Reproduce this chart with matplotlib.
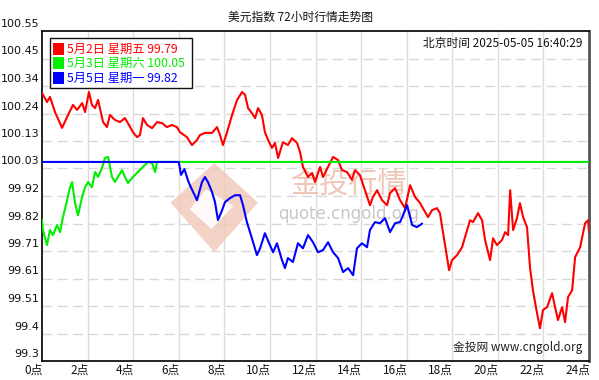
import matplotlib
matplotlib.use("Agg")
import matplotlib.pyplot as plt
import matplotlib.transforms as mtransforms
from matplotlib.patches import Rectangle, Polygon

plt.rcParams['font.family'] = ['Noto Sans CJK SC', 'DejaVu Sans']

# ---------------- data ----------------
title = "美元指数 72小时行情走势图"
timestamp = "北京时间 2025-05-05 16:40:29"
legend_labels = ["5月2日 星期五 99.79", "5月3日 星期六 100.05", "5月5日 星期一 99.82"]
series_colors = ["#ff0000", "#00ee00", "#0000ff"]

x_ticks = list(range(0, 25, 2))
x_ticklabels = [f"{h}点" for h in x_ticks]
y_min, y_max = 99.3, 100.55
y_ticklabels = ["99.3", "99.4", "99.51", "99.61", "99.71", "99.82", "99.92",
                "100.03", "100.13", "100.24", "100.34", "100.45", "100.55"]

red_hours = [0.00, 0.22, 0.35, 0.57, 0.88, 1.10, 1.36, 1.54, 1.76, 1.89, 2.06, 2.19, 2.33, 2.46,
             2.68, 2.85, 2.98, 3.20, 3.42, 3.64, 3.77, 3.99, 4.17, 4.30, 4.43, 4.61, 4.83, 5.05,
             5.27, 5.48, 5.70, 5.92, 6.05, 6.36, 6.58, 6.80, 6.93, 7.15, 7.46, 7.68, 7.81, 7.94,
             8.12, 8.34, 8.56, 8.78, 8.91, 9.04, 9.21, 9.35, 9.48, 9.65, 9.78, 9.92, 10.09, 10.22,
             10.36, 10.57, 10.79, 10.97, 11.19, 11.32, 11.45, 11.67, 11.85, 11.98, 12.20, 12.33,
             12.55, 12.77, 12.99, 13.16, 13.38, 13.60, 13.73, 13.95, 14.17, 14.39, 14.52, 14.70,
             14.92, 15.14, 15.27, 15.49, 15.71, 15.93, 16.15, 16.37, 16.59, 16.81, 16.94, 17.11,
             17.33, 17.46, 17.60, 17.77, 17.86, 17.99, 18.21, 18.43, 18.65, 18.78, 18.91, 19.13,
             19.31, 19.44, 19.66, 19.79, 19.96, 20.18, 20.32, 20.45, 20.54, 20.67, 20.84, 20.97,
             21.11, 21.28, 21.41, 21.54, 21.72, 21.85, 21.98, 22.16, 22.38, 22.51, 22.64, 22.82,
             22.95, 23.08, 23.26, 23.39, 23.61, 23.83, 23.96, 24.00]
red_prices = [100.315, 100.281, 100.300, 100.243, 100.183, 100.224, 100.270, 100.251, 100.277,
              100.243, 100.319, 100.270, 100.258, 100.289, 100.205, 100.186, 100.232, 100.213,
              100.205, 100.220, 100.201, 100.167, 100.148, 100.156, 100.220, 100.194, 100.182,
              100.205, 100.201, 100.186, 100.194, 100.186, 100.167, 100.148, 100.118, 100.137,
              100.156, 100.164, 100.164, 100.186, 100.156, 100.118, 100.167, 100.232, 100.289,
              100.319, 100.308, 100.258, 100.239, 100.220, 100.258, 100.232, 100.167, 100.137,
              100.107, 100.126, 100.069, 100.129, 100.118, 100.144, 100.126, 100.092, 100.035,
              99.997, 100.012, 99.978, 100.035, 99.997, 100.035, 100.073, 100.061, 100.023,
              100.016, 99.986, 100.023, 100.004, 99.947, 99.890, 99.921, 99.947, 99.909, 99.890,
              99.936, 99.955, 99.909, 99.879, 99.966, 99.921, 99.898, 99.864, 99.845, 99.871,
              99.879, 99.860, 99.784, 99.693, 99.644, 99.682, 99.701, 99.731, 99.796, 99.833,
              99.826, 99.860, 99.833, 99.758, 99.682, 99.765, 99.739, 99.758, 99.788, 99.777,
              99.947, 99.796, 99.841, 99.898, 99.845, 99.807, 99.656, 99.568, 99.481, 99.424,
              99.493, 99.504, 99.557, 99.504, 99.455, 99.504, 99.447, 99.542, 99.568, 99.693,
              99.731, 99.822, 99.833, 99.79]

green_hours = [0.00, 0.04, 0.22, 0.35, 0.48, 0.66, 0.79, 0.92, 1.10, 1.23, 1.32, 1.45, 1.58,
               1.76, 1.89, 2.02, 2.19, 2.33, 2.46, 2.63, 2.76, 2.90, 3.07, 3.20, 3.33, 3.51,
               3.64, 3.77, 3.99, 4.21, 4.43, 4.65, 4.83, 4.96, 5.05, 24.00]
green_prices = [99.834, 99.796, 99.739, 99.796, 99.777, 99.815, 99.788, 99.845, 99.909, 99.958,
                99.978, 99.898, 99.852, 99.921, 99.958, 99.978, 99.958, 100.016, 99.997,
                100.031, 100.069, 100.073, 99.997, 99.978, 99.997, 100.023, 99.997, 99.974,
                99.997, 100.016, 100.035, 100.054, 100.050, 100.016, 100.054, 100.054]

blue_hours = [0.00, 6.00, 6.10, 6.25, 6.40, 6.49, 6.80, 7.02, 7.15, 7.28, 7.46, 7.59, 7.72,
              7.90, 8.03, 8.25, 8.47, 8.69, 8.82, 8.99, 9.21, 9.43, 9.57, 9.78, 10.00, 10.14,
              10.31, 10.53, 10.66, 10.79, 11.01, 11.23, 11.45, 11.67, 11.89, 12.11, 12.33,
              12.55, 12.77, 12.99, 13.21, 13.43, 13.65, 13.82, 14.04, 14.26, 14.39, 14.61,
              14.83, 15.05, 15.27, 15.49, 15.71, 16.02, 16.24, 16.45, 16.67]
blue_prices = [100.054, 100.054, 100.005, 100.027, 99.985, 99.966, 99.909, 99.978, 99.997,
               99.978, 99.940, 99.902, 99.834, 99.871, 99.902, 99.917, 99.928, 99.928, 99.890,
               99.826, 99.765, 99.701, 99.727, 99.784, 99.739, 99.712, 99.746, 99.682, 99.652,
               99.690, 99.675, 99.746, 99.727, 99.777, 99.750, 99.712, 99.720, 99.750, 99.712,
               99.690, 99.637, 99.652, 99.625, 99.727, 99.746, 99.731, 99.796, 99.826, 99.822,
               99.841, 99.788, 99.822, 99.826, 99.890, 99.815, 99.807, 99.82]

# ---------------- figure ----------------
fig = plt.figure(figsize=(5.99, 3.80), dpi=100)
ax = fig.add_axes([42 / 599, 19 / 380, 547 / 599, 330 / 380])
ax.set_xlim(0, 24)
ax.set_ylim(y_min, y_max)

# grid
step = (y_max - y_min) / 12
y_ticks = [y_min + i * step for i in range(13)]
for yv in y_ticks[1:-1]:
    ax.axhline(yv, color="#d8d8d8", lw=1.0, ls=(0, (7, 4)), zorder=1)
for xv in x_ticks[1:-1]:
    ax.axvline(xv, color="#dcdcdc", lw=1.0, zorder=1)

# watermark
logo = Polygon([[0.315, 0.60], [0.395, 0.48], [0.315, 0.33], [0.235, 0.48]],
               closed=True, transform=ax.transAxes, facecolor="#f0c8b8", edgecolor="none",
               alpha=0.8, zorder=1.5)
ax.add_patch(logo)
inner = Polygon([[0.30, 0.52], [0.35, 0.47], [0.31, 0.40], [0.27, 0.46]],
                closed=True, transform=ax.transAxes, facecolor="white", edgecolor="none",
                alpha=0.9, zorder=1.6)
ax.add_patch(inner)
ax.text(0.56, 0.535, "金投行情", transform=ax.transAxes, fontsize=21, color="#eec0b0",
        ha="center", va="center", alpha=0.9, zorder=1.7)
ax.text(0.56, 0.445, "quote.cngold.org", transform=ax.transAxes, fontsize=12,
        color="#c8c8c8", ha="center", va="center", zorder=1.7,
        family=["DejaVu Sans"])

# lines
ax.plot(red_hours, red_prices, color=series_colors[0], lw=1.5, zorder=3)
ax.plot(green_hours, green_prices, color=series_colors[1], lw=1.5, zorder=3)
ax.plot(blue_hours, blue_prices, color=series_colors[2], lw=1.5, zorder=4)

# ticks
ax.set_xticks(x_ticks)
ax.set_xticklabels(x_ticklabels, fontsize=8.5, ha="right")
ax.set_yticks(y_ticks)
ax.set_yticklabels(y_ticklabels, fontsize=8, family=["DejaVu Sans"])
ax.tick_params(axis="both", length=0, pad=2, colors="#111111")
offset = mtransforms.ScaledTranslation(0, 8 / 100, fig.dpi_scale_trans)
for lbl in ax.get_yticklabels():
    lbl.set_transform(lbl.get_transform() + offset)
xoff = mtransforms.ScaledTranslation(1 / 100, 0, fig.dpi_scale_trans)
for lbl in ax.get_xticklabels():
    lbl.set_transform(lbl.get_transform() + xoff)

for side in ["left", "bottom", "top"]:
    ax.spines[side].set_color("#111111")
    ax.spines[side].set_linewidth(1.3)
ax.spines["right"].set_color("#555555")
ax.spines["right"].set_linewidth(2.0)

# title and texts
fig.text(300 / 599, 1 - 17 / 380, title, fontsize=8.5, ha="center", va="center", color="#111111")
fig.text(582 / 599, 1 - 43 / 380, timestamp, fontsize=8.5, ha="right", va="center", color="#111111")
fig.text(582 / 599, 1 - 347 / 380, "金投网 www.cngold.org", fontsize=8.5, ha="right",
         va="center", color="#222222")

# legend box
box = Rectangle((50 / 599, 1 - 88 / 380), 142 / 599, 50 / 380, transform=fig.transFigure,
                facecolor="white", edgecolor="#111111", lw=1.0, zorder=5)
fig.patches.append(box)
rows_y = [49, 63, 78]
for lab, col, ry in zip(legend_labels, series_colors, rows_y):
    sq = Rectangle((53 / 599, 1 - (ry + 6) / 380), 11 / 599, 12 / 380,
                   transform=fig.transFigure, facecolor=col, edgecolor="none", zorder=6)
    fig.patches.append(sq)
    fig.text(67 / 599, 1 - ry / 380, lab, fontsize=8.8, ha="left", va="center",
             color=col, zorder=7)

fig.savefig("out.png", dpi=100)
